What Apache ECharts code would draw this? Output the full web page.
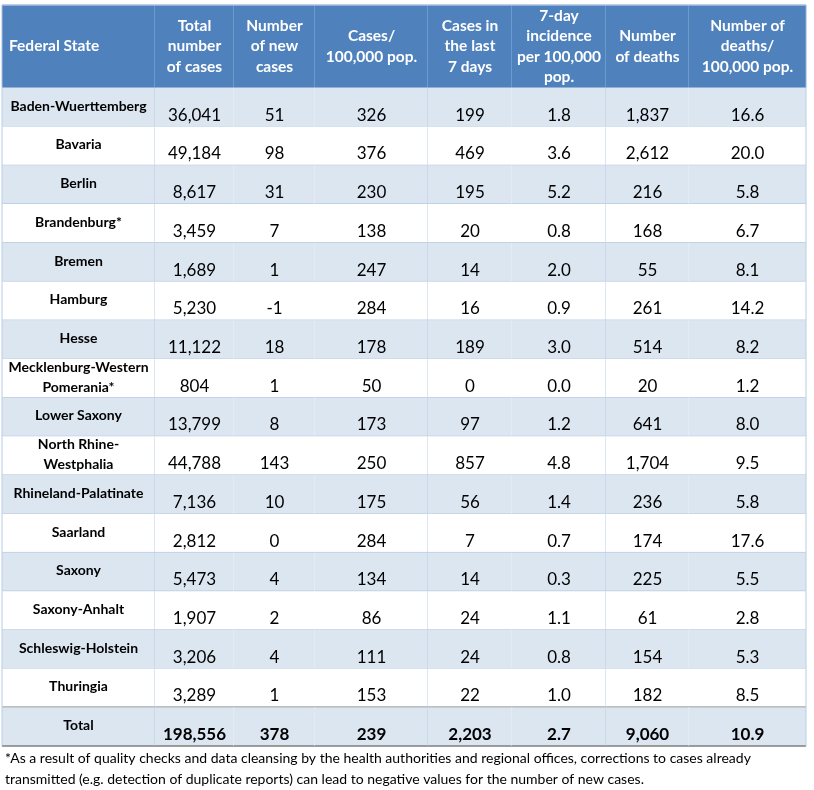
<!DOCTYPE html>
<html><head><meta charset="utf-8">
<script src="https://cdn.jsdelivr.net/npm/echarts@6/dist/echarts.min.js"></script>
<style>html,body{margin:0;padding:0;background:#fff}#c{width:814px;height:790px}</style>
</head><body><div id="c"></div>
<script>
const headers = ['Federal State','Total\nnumber\nof cases','Number\nof new\ncases','Cases/\n100,000 pop.','Cases in\nthe last\n7 days','7-day\nincidence\nper 100,000\npop.','Number\nof deaths','Number of\ndeaths/\n100,000 pop.'];
const states = ['Baden-Wuerttemberg','Bavaria','Berlin','Brandenburg*','Bremen','Hamburg','Hesse','Mecklenburg-Western\nPomerania*','Lower Saxony','North Rhine-\nWestphalia','Rhineland-Palatinate','Saarland','Saxony','Saxony-Anhalt','Schleswig-Holstein','Thuringia'];
const totalCases = [36041,49184,8617,3459,1689,5230,11122,804,13799,44788,7136,2812,5473,1907,3206,3289];
const newCases = [51,98,31,7,1,-1,18,1,8,143,10,0,4,2,4,1];
const casesPer100k = [326,376,230,138,247,284,178,50,173,250,175,284,134,86,111,153];
const cases7d = [199,469,195,20,14,16,189,0,97,857,56,7,14,24,24,22];
const incidence7d = [1.8,3.6,5.2,0.8,2.0,0.9,3.0,0.0,1.2,4.8,1.4,0.7,0.3,1.1,0.8,1.0];
const deaths = [1837,2612,216,168,55,261,514,20,641,1704,236,174,225,61,154,182];
const deathsPer100k = [16.6,20.0,5.8,6.7,8.1,14.2,8.2,1.2,8.0,9.5,5.8,17.6,5.5,2.8,5.3,8.5];
const totalRow = ['Total',198556,378,239,2203,2.7,9060,10.9];
const footnote = '*As a result of quality checks and data cleansing by the health authorities and regional offices, corrections to cases already\ntransmitted (e.g. detection of duplicate reports) can lead to negative values for the number of new cases.';

// layout (not data)
const colW = [153,79,81,113,84,94,83,117];
const edges = [0]; colW.forEach(w => edges.push(edges[edges.length-1] + w));
const headerUnits = 2.14;
const decimals = [null,0,0,0,0,1,0,1];
const fmt = (v, c) => typeof v === 'string' ? v : v.toLocaleString('en-US',{minimumFractionDigits:decimals[c],maximumFractionDigits:decimals[c]});

const columns = [states,totalCases,newCases,casesPer100k,cases7d,incidence7d,deaths,deathsPer100k];
const cells = [], texts = [];
headers.forEach((h,c) => { cells.push([c,-1]); texts.push(h); });
states.forEach((s,r) => columns.forEach((col,c) => { cells.push([c,r]); texts.push(fmt(col[r],c)); }));
totalRow.forEach((v,c) => { cells.push([c,states.length]); texts.push(fmt(v,c)); });
const nRows = states.length + 1;
const majorRight = [0,3,5,7];

const chart = echarts.init(document.getElementById('c'));
chart.setOption({
  animation:false,
  title:{text:footnote,left:5,top:748,padding:0,textStyle:{fontFamily:'Lato',fontSize:14,fontWeight:'normal',color:'#000',lineHeight:21}},
  grid:{left:2,top:5,width:804,height:741},
  xAxis:{type:'value',min:0,max:edges[8],show:false},
  yAxis:{type:'value',min:0,max:headerUnits+nRows,inverse:true,show:false},
  series:[{
    type:'custom',
    data:cells,
    renderItem:(params,api)=>{
      const c = api.value(0), r = api.value(1);
      const y0 = r < 0 ? 0 : headerUnits + r, y1 = r < 0 ? headerUnits : y0 + 1;
      const p0 = api.coord([edges[c],y0]), p1 = api.coord([edges[c+1],y1]);
      const x = p0[0], y = p0[1], w = p1[0]-p0[0], h = p1[1]-p0[1];
      const txt = texts[params.dataIndex];
      const ch = [];
      let fill;
      if (r < 0) fill = '#4F81BD'; else fill = (r % 2 === 0) ? '#DCE6F1' : '#FFFFFF';
      ch.push({type:'rect',shape:{x,y,width:w,height:h},style:{fill}});
      if (r < 0) {
        ch.push({type:'line',shape:{x1:x+w,y1:y,x2:x+w,y2:y+h},style:{stroke:'#8DB0DB',lineWidth:1}});
        ch.push({type:'line',shape:{x1:x,y1:y,x2:x+w,y2:y},style:{stroke:'#A7C0E0',lineWidth:1.5}});
        if (c===0) ch.push({type:'line',shape:{x1:x,y1:y,x2:x,y2:y+h},style:{stroke:'#A7C0E0',lineWidth:1}});
        const left = c === 0;
        ch.push({type:'text',style:{text:txt,x:left?x+7:x+w/2,y:y+h/2,align:left?'left':'center',verticalAlign:'middle',fill:'#FFFFFF',font:'bold 15.5px Lato',lineHeight:20.5}});
      } else {
        const last = r >= nRows-2;
        ch.push({type:'line',shape:{x1:x,y1:y+h,x2:x+w,y2:y+h},style:{stroke:last?'#7F7F7F':'#A9BFDB',lineWidth:last?1.5:1}});
        if (majorRight.indexOf(c) >= 0) ch.push({type:'line',shape:{x1:x+w,y1:y,x2:x+w,y2:y+h},style:{stroke:'#B8CCE4',lineWidth:1}});
        else if (r % 2 === 0) ch.push({type:'line',shape:{x1:x+w,y1:y,x2:x+w,y2:y+h},style:{stroke:'#EAF0F8',lineWidth:1}});
        if (c===0) ch.push({type:'line',shape:{x1:x,y1:y,x2:x,y2:y+h},style:{stroke:'#B8CCE4',lineWidth:1}});
        const isTotal = r === nRows-1;
        if (c === 0) {
          ch.push({type:'text',style:{text:txt,x:x+w/2,y:y+h/2-1,align:'center',verticalAlign:'middle',fill:'#000',font:'bold 14px Lato',lineHeight:20}});
        } else {
          ch.push({type:'text',style:{text:txt,x:x+w/2,y:y+h/2+8,align:'center',verticalAlign:'middle',fill:'#000',font:(isTotal?'bold ':'')+'17px Lato'}});
        }
      }
      return {type:'group',children:ch};
    }
  }]
});
</script></body></html>
